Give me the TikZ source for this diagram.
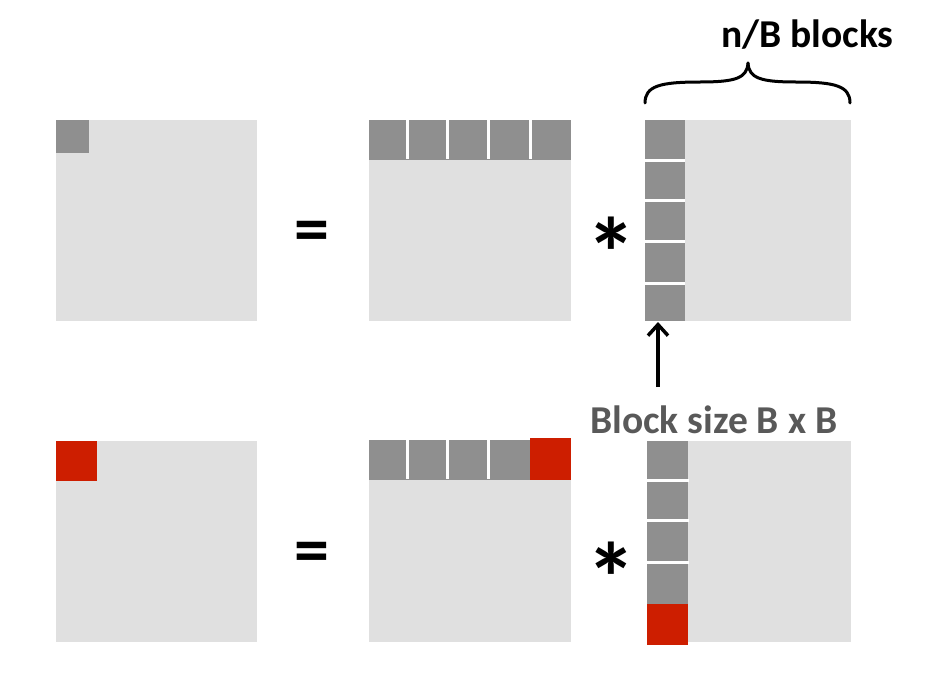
\documentclass[tikz,border=0pt]{standalone}
\usepackage{fontspec}
\setmainfont{Carlito}
\usetikzlibrary{arrows.meta}
\definecolor{lightg}{RGB}{224,224,224}
\definecolor{darkg}{RGB}{143,143,143}
\definecolor{redb}{RGB}{205,30,0}
\definecolor{labelg}{RGB}{89,89,89}
\tikzset{
  mat/.style={fill=lightg},
  blk/.style={fill=darkg},
  redblk/.style={fill=redb},
  sep/.style={draw=white,line width=3pt},
  op/.style={inner sep=0pt,font=\fontsize{70}{74}\selectfont\bfseries},
  starop/.style={inner sep=0pt,font=\fontsize{100}{104}\selectfont\bfseries},
  lbl/.style={inner sep=0pt,font=\fontsize{39.5}{44}\selectfont\bfseries},
  bracel/.style={line width=3pt,line cap=round},
  arr/.style={line width=3.5pt,-{Straight Barb[length=11pt,width=20pt]}}
}
\begin{document}
\begin{tikzpicture}[x=1pt,y=-1pt]
\path[use as bounding box,fill=white] (0,0) rectangle (933,680);
% ---------- top row ----------
% C
\fill[mat] (56,120) rectangle (257,321);
\fill[blk] (56,120) rectangle (89,153);
% A
\fill[mat] (369,120) rectangle (571,321);
\fill[blk] (369,120) rectangle (571,160);
\foreach \x in {407,447,488,530} \draw[sep] (\x,120) -- (\x,158.5);
% B
\fill[mat] (645,120) rectangle (851,321);
\fill[blk] (645,120) rectangle (685,321);
\foreach \y in {160,200,241,283} \draw[sep] (645,\y) -- (684.5,\y);
% operators
\node[op] (eqtop) at (312,237) {=};
\node[starop] (startop) at (611.5,253) {*};
% ---------- bottom row ----------
\fill[mat] (56,441) rectangle (257,642);
\fill[redblk] (56,441) rectangle (97,481);
\fill[mat] (369,440) rectangle (571,642);
\fill[blk] (369,440) rectangle (571,480);
\foreach \x in {407,447,488} \draw[sep] (\x,440) -- (\x,478.5);
\fill[redblk] (530,438) rectangle (571,480);
\fill[mat] (647,441) rectangle (851,642);
\fill[blk] (647,441) rectangle (688,604);
\foreach \y in {480,520,562} \draw[sep] (647,\y) -- (689,\y);
\fill[redblk] (647,604) rectangle (688,645);
\node[op] (eqbot) at (312,557.5) {=};
\node[starop] (starbot) at (611.5,578) {*};
% ---------- labels ----------
\node[lbl,anchor=base west] (nb) at (721,47) {n/B blocks};
\draw[bracel] (645,103) .. controls (645,86) and (660,82) .. (700,82)
  .. controls (736,82) and (747,78) .. (748,63);
\draw[bracel] (850,103) .. controls (850,86) and (835,82) .. (796,82)
  .. controls (760,82) and (749,78) .. (748,63);
\node[lbl,text=labelg,anchor=base west] (bs) at (590,433) {Block size B x B};
\coordinate (arrfrom) at (658,387);
\coordinate (arrto) at (658,322);
\draw[arr] (arrfrom) -- (arrto);
\end{tikzpicture}
\end{document}
